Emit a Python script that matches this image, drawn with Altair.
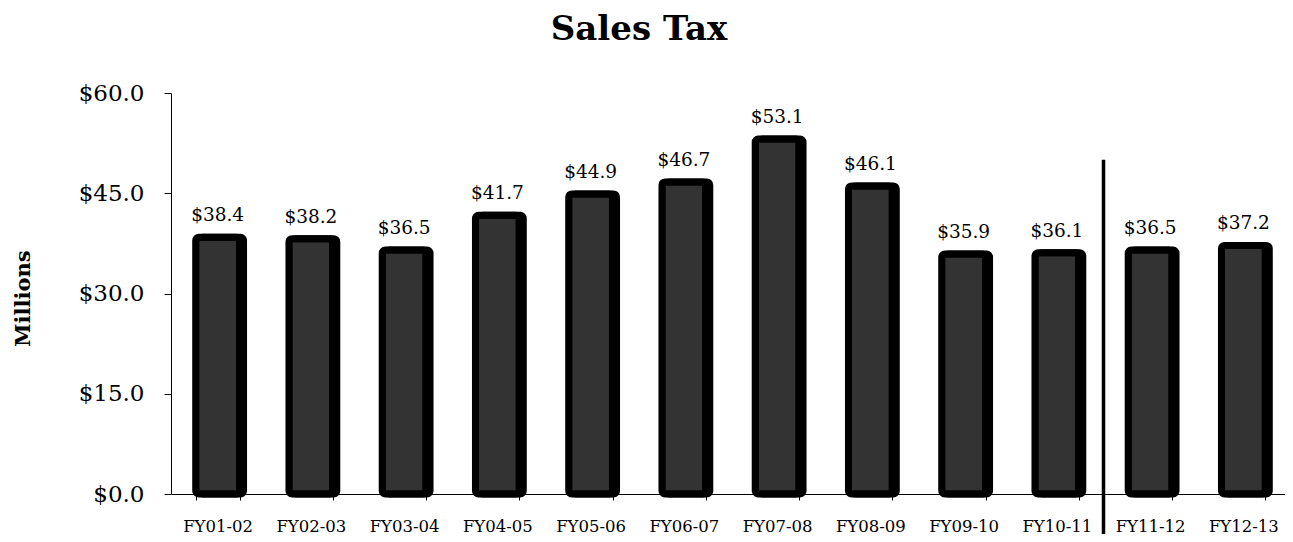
import altair as alt
import pandas as pd

categories = ["FY01-02", "FY02-03", "FY03-04", "FY04-05", "FY05-06", "FY06-07",
              "FY07-08", "FY08-09", "FY09-10", "FY10-11", "FY11-12", "FY12-13"]
values = [38.4, 38.2, 36.5, 41.7, 44.9, 46.7, 53.1, 46.1, 35.9, 36.1, 36.5, 37.2]
y_ticks = [0, 15, 30, 45, 60]
divider_category = ["FY11-12"]
divider_top = [50]

df = pd.DataFrame({"year": categories, "value": values})
df["label"] = ["$%.1f" % v for v in values]
div = pd.DataFrame({"year": divider_category, "value": divider_top})

W, H = 1112, 401
XR = 1119
FONT = "DejaVu Serif"
P_IN, P_OUT = 0.53, 0.265
step = XR / len(categories)

xscale = alt.Scale(domain=categories, paddingInner=P_IN, paddingOuter=P_OUT,
                   range=[0, XR])
yscale = alt.Scale(domain=[0, 60], nice=False)

xaxis = alt.Axis(title=None, labelAngle=0, labelFont=FONT, labelFontSize=16.5,
                 labelColor="black", tickColor="black", domainColor="black",
                 tickSize=6, labelPadding=18, tickBand="extent", grid=False)
yaxis = alt.Axis(title="Millions", values=y_ticks, format="$.1f", labelFont=FONT,
                 labelFontSize=23, labelColor="black", tickColor="black",
                 domainColor="black", tickSize=7, labelPadding=20, grid=False,
                 titleFont=FONT, titleFontSize=21, titleFontWeight="bold",
                 titleColor="black", titleX=-148, titleY=205,
                 titleBaseline="middle", titleAlign="center")

X = alt.X("year:N", scale=xscale, sort=categories, axis=xaxis)
Y = alt.Y("value:Q", scale=yscale, axis=yaxis)

base = alt.Chart(df)
shadow = base.mark_bar(color="#000", opacity=0.45, stroke="#000", strokeWidth=7,
                       cornerRadius=3, xOffset=4, yOffset=4).encode(x=X, y=Y)
bars = base.mark_bar(color="#333333", stroke="#000", strokeWidth=7,
                     cornerRadius=3).encode(x=X, y=Y)
labels = base.mark_text(font=FONT, fontSize=18.5, color="black", baseline="alphabetic",
                        dy=-16).encode(x=X, y=Y, text="label:N")
rule = alt.Chart(div).mark_rule(color="black", strokeWidth=3.5,
                                xOffset=-P_OUT * step).encode(
    x=alt.X("year:N", scale=xscale, sort=categories, axis=xaxis, bandPosition=0),
    y=Y, y2=alt.value(H + 40))

chart = alt.layer(shadow, bars, labels, rule).properties(
    width=W, height=H,
    title=alt.TitleParams("Sales Tax", font=FONT, fontSize=34, fontWeight="bold",
                          color="black", anchor="middle", frame="group", dx=-88,
                          baseline="alphabetic", offset=8),
    autosize=alt.AutoSizeParams(type="none"),
    padding={"left": 163, "top": 85, "right": 2, "bottom": 40},
).configure_view(stroke=None)

chart.save("out.html", embed_options={"renderer": "svg", "actions": False})
